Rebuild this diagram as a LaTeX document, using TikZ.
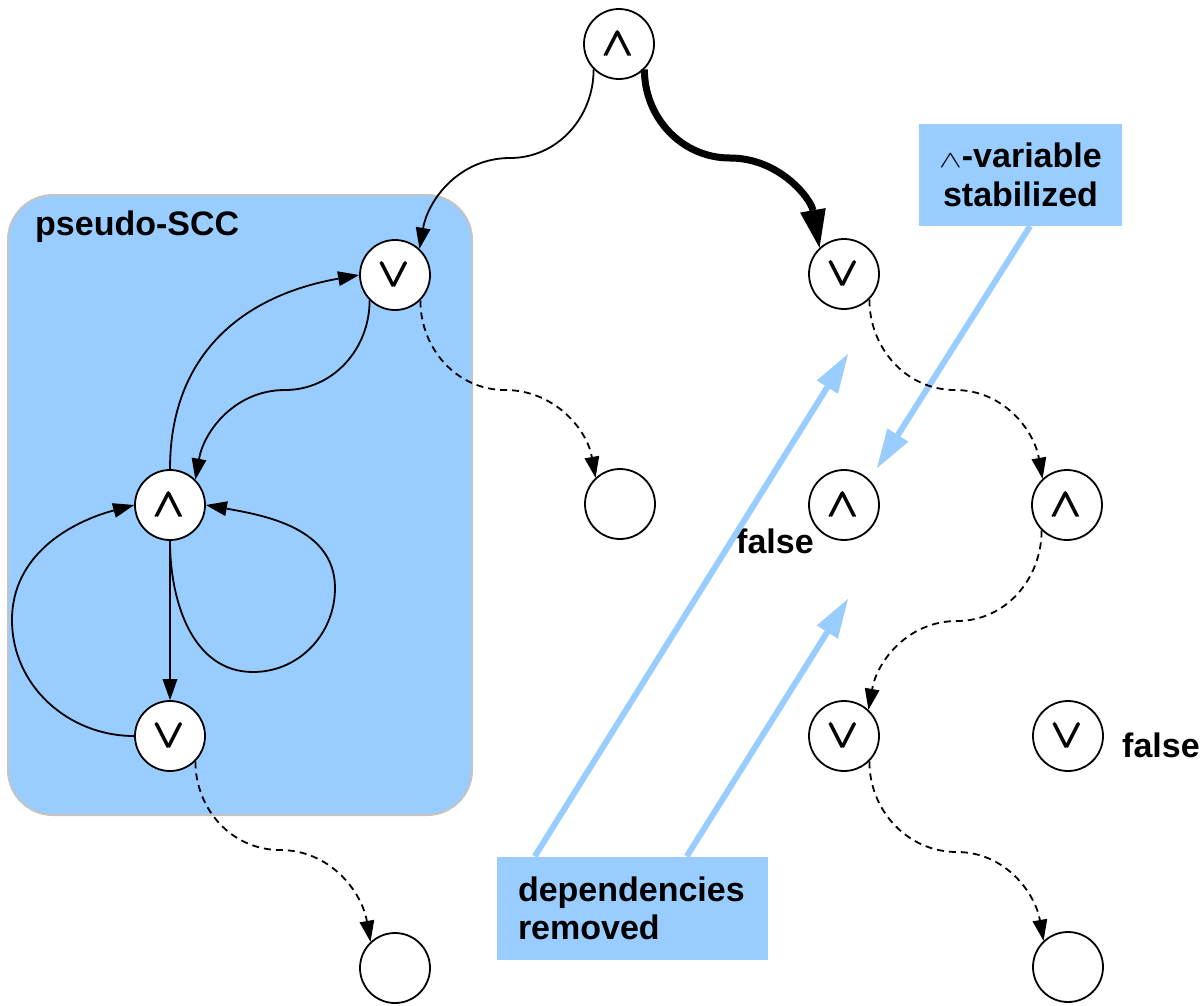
\documentclass[tikz,border=0pt]{standalone}
\usepackage{amsmath}
\usepackage{graphicx}
\usepackage{fontspec}
\setmainfont{Liberation Sans}
\usetikzlibrary{arrows.meta,calc}
\definecolor{paleblue}{HTML}{99CCFF}
\definecolor{framegray}{HTML}{C4C4C4}
\newcommand{\gateand}{\scalebox{4.6}[4.0]{\normalsize$\pmb{\wedge}$}}
\newcommand{\gateor}{\scalebox{4.6}[4.0]{\normalsize$\pmb{\vee}$}}
\newcommand{\smalland}{\scalebox{3.4}[2.4]{\normalsize$\wedge$}}
\begin{document}
\begin{tikzpicture}[x=1pt,y=1pt,
  gate/.style={circle, draw, line width=1.8pt, fill=white, minimum size=70pt,
    inner sep=0pt},
  link/.style={line width=1.8pt, -{Triangle[length=21pt,width=15pt,line width=0pt]}},
  dlink/.style={link, dash pattern=on 7pt off 5pt},
  heavy/.style={line width=7pt, -{Triangle[length=38pt,width=26pt,line width=0pt]}},
  note/.style={fill=paleblue, inner ysep=0pt, font=\bfseries\fontsize{34pt}{38pt}\selectfont},
  hint/.style={draw=paleblue, line width=6pt, -{Triangle[length=39pt,width=25pt,line width=0pt]}},
  tag/.style={font=\bfseries\fontsize{34pt}{40pt}\selectfont, inner sep=0pt}
]
\useasboundingbox (0,0) rectangle (1203,-1005);

% pseudo-SCC region
\draw[draw=framegray, line width=2pt, fill=paleblue, rounded corners=45pt]
  (8,-195) rectangle (472,-815);
\node[tag, anchor=base west] (scclabel) at (35,-235) {pseudo-SCC};

% gates
\node[gate] (top) at (619,-44) {\gateand};
\node[gate] (L1) at (395,-275) {\gateor};
\node[gate] (R1) at (844,-274) {\gateor};
\node[gate] (L2) at (170,-505) {\gateand};
\node[gate] (E1) at (620,-504) {};
\node[gate] (R2a) at (844,-505) {\gateand};
\node[gate] (R2b) at (1067,-505) {\gateand};
\node[gate] (L3) at (170,-736) {\gateor};
\node[gate] (R3a) at (844,-736) {\gateor};
\node[gate] (R3b) at (1068,-736) {\gateor};
\node[gate] (BL) at (395,-968) {};
\node[gate] (BR) at (1068,-967) {};

% value labels
\node[tag, anchor=base west] (f1) at (736,-553) {false};
\node[tag, anchor=base west] (f2) at (1122,-757) {false};

% annotation boxes
\node[note, text width=229pt, inner xsep=21pt, minimum height=103pt, align=left]
  (deps) at (632.5,-908) {dependencies\\removed};
\node[note, text width=163pt, inner xsep=20pt, minimum height=102pt, align=center,
  font=\bfseries\fontsize{34pt}{39pt}\selectfont]
  (stab) at (1020.5,-175) {\smalland-variable\\stabilized};

% annotation pointers
\coordinate (t1) at (848,-354);
\coordinate (t2) at (848,-599);
\coordinate (t3) at (877,-468);
\draw[hint] ($(deps.north west)!0.14!(deps.north east)$) -- (t1);
\draw[hint] ($(deps.north west)!0.70!(deps.north east)$) -- (t2);
\draw[hint] ($(stab.south west)!0.547!(stab.south east)$) -- (t3);

% bends of the S-shaped connectors
\coordinate (m1) at (510,-158);
\coordinate (m2) at (730,-158);
\coordinate (m3) at (505,-390);
\coordinate (m4) at (285,-390);
\coordinate (m5) at (280,-850);
\coordinate (m6) at (955,-390);
\coordinate (m7) at (957,-621);
\coordinate (m8) at (957,-852);
\coordinate (lb) at (253,-672);
\coordinate (lr) at (335,-588);
\coordinate (ll) at (12,-620);

% solid dependencies
\draw[link] (top.225) to[out=-90,in=0] (m1) to[out=180,in=80] (L1.47);
\draw[heavy] (top.315) to[out=-90,in=180] (m2) to[out=0,in=100] (R1.133);
\draw[link] (L1.225) to[out=-90,in=0] (m4) to[out=180,in=80] (L2.45);
\draw[link] (L2.north) to[out=90,in=190,looseness=1.1] (L1.west);
\draw[link] (L2.south) to[out=-90,in=180] (lb) to[out=0,in=-90] (lr)
  to[out=90,in=-10] (L2.east);
\draw[link] (L2.south) -- (L3.north);
\draw[link] (L3.west) to[out=180,in=-90] (ll) to[out=90,in=195] (L2.west);

% dashed dependencies
\draw[dlink] (L1.-45) to[out=-90,in=180] (m3) to[out=0,in=100] (E1.133);
\draw[dlink] (L3.-45) to[out=-90,in=180] (m5) to[out=0,in=100] (BL.133);
\draw[dlink] (R1.-45) to[out=-90,in=180] (m6) to[out=0,in=100] (R2b.133);
\draw[dlink] (R2b.225) to[out=-90,in=0] (m7) to[out=180,in=80] (R3a.47);
\draw[dlink] (R3a.-45) to[out=-90,in=180] (m8) to[out=0,in=100] (BR.133);
\end{tikzpicture}
\end{document}
